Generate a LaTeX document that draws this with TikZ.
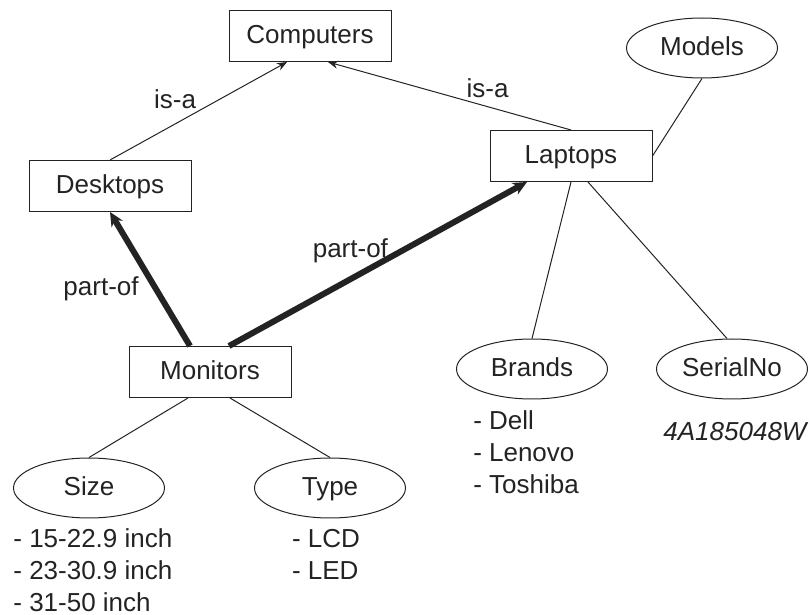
\documentclass[tikz,border=0pt]{standalone}
\usepackage{fontspec}
\setmainfont{Liberation Sans}
\usetikzlibrary{positioning,arrows.meta,shapes.geometric}
\definecolor{dInk}{RGB}{35,35,35}
\tikzset{
  concept/.style={rectangle, draw=dInk, line width=0.5pt, minimum width=81pt,
                  minimum height=25.5pt, text=dInk, text height=9.4pt, text depth=2pt,
                  font=\fontsize{13}{16}\selectfont},
  attr/.style={ellipse, draw=dInk, line width=0.5pt, minimum width=75.5pt,
               minimum height=30pt, inner sep=0pt, text=dInk,
               text height=9.4pt, text depth=2pt, font=\fontsize{13}{16}\selectfont},
  vals/.style={align=left, inner sep=0pt, text=dInk, font=\fontsize{13}{16}\selectfont},
  isa/.style={-{Stealth[length=5pt,width=4pt]}, draw=dInk, line width=0.5pt},
  partof/.style={-{Stealth[length=7pt,width=6.5pt]}, draw=dInk, line width=3pt},
  link/.style={draw=dInk, line width=0.5pt},
  lbl/.style={inner sep=1pt, text=dInk, font=\fontsize{13}{16}\selectfont},
}
\begin{document}
\begin{tikzpicture}[x=0.5pt, y=-0.5pt, on grid]
  \useasboundingbox (0,0) rectangle (811,615);
  % --- concept hierarchy : Computers -> Desktops / Laptops ------------------
  \node[concept] (computers) at (310,36) {Computers};
  \node[concept, below left=75pt and 100pt of computers] (desktops) {Desktops};
  \node[concept, below right=60pt and 130.5pt of computers] (laptops) {Laptops};
  \node[concept, below right=93pt and 50pt of desktops] (monitors) {Monitors};

  % --- attributes ------------------------------------------------------------
  \node[attr, above right=54pt and 65.5pt of laptops] (models) {Models};
  \node[attr, below left=106.5pt and 19.5pt of laptops] (brands) {Brands};
  \node[attr, right=100pt of brands] (serialno) {SerialNo};
  \node[attr, below left=58pt and 60.5pt of monitors] (size) {Size};
  \node[attr, below right=58pt and 60pt of monitors] (type) {Type};

  % --- attribute values ------------------------------------------------------
  \node[vals, anchor=north west, yshift=-5pt] (sizevals) at (size.west |- size.south)
    {- 15-22.9 inch\\ - 23-30.9 inch\\ - 31-50 inch};
  \node[vals, anchor=north, yshift=-5pt, xshift=-2pt] (typevals) at (type.south)
    {- LCD\\ - LED};
  \node[vals, anchor=north, yshift=-5.5pt, xshift=-3pt] (brandvals) at (brands.south)
    {- Dell\\ - Lenovo\\ - Toshiba};
  \node[vals, anchor=north, yshift=-11pt, xshift=1.5pt] (serialval) at (serialno.south)
    {\itshape 4A185048W};

  % --- is-a links --------------------------------------------------------------
  \draw[isa] (desktops.north) -- node[lbl, pos=0.5, anchor=south east]{is-a}
    ([xshift=-11.5pt]computers.south);
  \draw[isa] (laptops.north) -- node[lbl, pos=0.44, anchor=south west]{is-a}
    ([xshift=9pt]computers.south);

  % --- part-of links -----------------------------------------------------------
  \draw[partof] ([xshift=-10pt]monitors.north) -- node[lbl, pos=0.43, left=6pt]{part-of}
    (desktops.south);
  \draw[partof] ([xshift=9.5pt]monitors.north) -- node[lbl, pos=0.53, anchor=south east,
    xshift=3pt, yshift=-4.5pt]{part-of} ([xshift=-22pt]laptops.south);

  % --- attribute links ---------------------------------------------------------
  \draw[link] (models.south) -- (laptops.east);
  \draw[link] (laptops.south) -- (brands.north);
  \draw[link] ([xshift=8.5pt]laptops.south) -- ([xshift=-2.5pt]serialno.north);
  \draw[link] ([xshift=-11pt]monitors.south) -- (size.north);
  \draw[link] ([xshift=10pt]monitors.south) -- (type.north);
\end{tikzpicture}
\end{document}
